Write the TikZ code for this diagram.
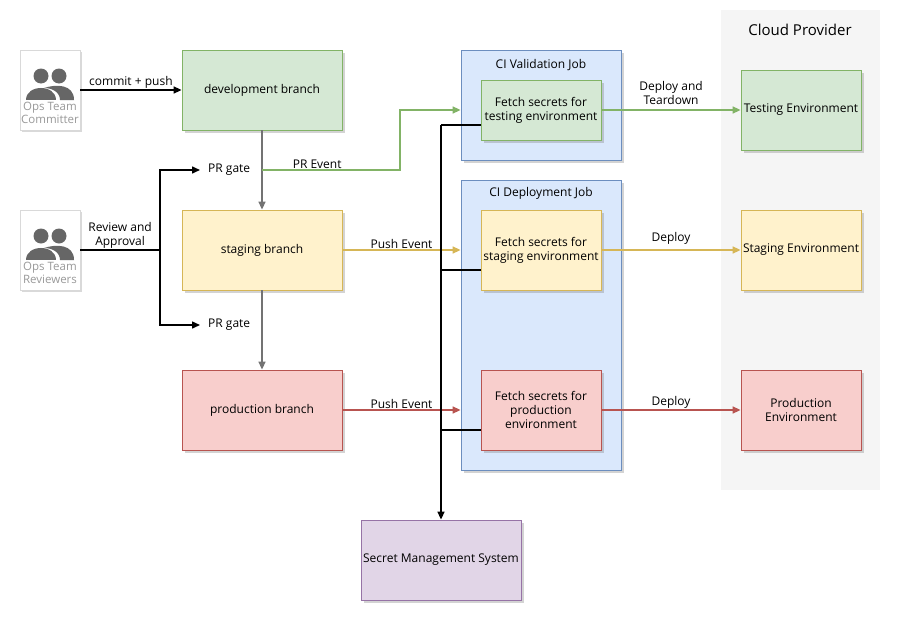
\documentclass[tikz,border=0pt]{standalone}
\usepackage{fontspec}
\setmainfont{Open Sans}
\usetikzlibrary{shadows,arrows.meta}
\definecolor{gF}{HTML}{D5E8D4}\definecolor{gS}{HTML}{82B366}
\definecolor{yF}{HTML}{FFF2CC}\definecolor{yS}{HTML}{D6B656}
\definecolor{rF}{HTML}{F8CECC}\definecolor{rS}{HTML}{B85450}
\definecolor{bF}{HTML}{DAE8FC}\definecolor{bS}{HTML}{6C8EBF}
\definecolor{pF}{HTML}{E1D5E7}\definecolor{pS}{HTML}{9673A6}
\definecolor{cloud}{HTML}{F5F5F5}
\begin{document}
\begin{tikzpicture}[x=1pt,y=-1pt,
  every node/.style={font=\fontsize{12}{14}\selectfont,align=center,inner sep=1pt},
  box/.style={draw,line width=0.8pt,minimum width=160pt,minimum height=80pt,drop shadow={shadow xshift=3pt,shadow yshift=-3pt,opacity=0.35}},
  fbox/.style={box,minimum width=120pt,minimum height=60pt},
  ci/.style={draw=bS,fill=bF,line width=0.8pt,minimum width=160pt,drop shadow={shadow xshift=3pt,shadow yshift=-3pt,opacity=0.35}},
  icon/.style={draw=black!15,fill=white,minimum width=60pt,minimum height=80pt,drop shadow={shadow xshift=2pt,shadow yshift=-2pt,opacity=0.3}},
  arr/.style={line width=1.5pt,-{Triangle[length=8pt,width=7pt]}},
  ln/.style={line width=1.5pt}]
\useasboundingbox (0,0) rectangle (899,621);
\node[fill=cloud,minimum width=159pt,minimum height=480pt,anchor=north west] (cloud) at (721,10) {};
\node[font=\fontsize{15}{18}\selectfont] (cloudlbl) at (800,30) {Cloud Provider};
% icons
\foreach \n/\y/\t in {comm/90/Committer,rev/250/Reviewers}{
 \node[icon] (\n) at (50,\y) {};
 \fill[black!60] (41,\y-14) circle (7.5) (59,\y-14) circle (7.5);
 \fill[black!60] (26,\y+10) .. controls (26,\y-6) and (56,\y-6) .. (56,\y+10) -- cycle;
 \fill[black!60] (44,\y-2) .. controls (56,\y-6) and (74,\y-6) .. (74,\y+10) -- (60,\y+10) .. controls (60,\y+2) and (52,\y-2) .. (44,\y-2) -- cycle;
 \node[text=black!40,font=\fontsize{11.5}{13}\selectfont] (\n t) at (50,\y+23) {Ops Team\\\t};
}
% branches
\node[box,draw=gS,fill=gF] (dev) at (262,90) {development branch};
\node[box,draw=yS,fill=yF] (stg) at (262,250) {staging branch};
\node[box,draw=rS,fill=rF] (prd) at (262,410) {production branch};
% CI
\node[ci,minimum height=110pt] (val) at (541,105) {};
\node (valt) at (541,65) {CI Validation Job};
\node[ci,minimum height=290pt] (dep) at (541,325) {};
\node (dept) at (541,193) {CI Deployment Job};
\node[fbox,draw=gS,fill=gF] (ft) at (541,110) {Fetch secrets for\\testing environment};
\node[fbox,draw=yS,fill=yF,minimum height=80pt] (fs) at (541,250) {Fetch secrets for\\staging environment};
\node[fbox,draw=rS,fill=rF,minimum height=80pt] (fp) at (541,410) {Fetch secrets for\\production\\environment};
% envs
\node[fbox,draw=gS,fill=gF,minimum height=80pt] (te) at (801,110) {Testing Environment};
\node[fbox,draw=yS,fill=yF,minimum height=80pt] (se) at (801,250) {Staging Environment};
\node[fbox,draw=rS,fill=rF,minimum height=80pt] (pe) at (801,410) {Production\\Environment};
\node[box,draw=pS,fill=pF] (sms) at (441,560) {Secret Management System};
% edges
\draw[arr] (comm.east) -- node[above] {commit + push} (dev.west);
\coordinate (pg1) at (200,170); \coordinate (pg2) at (200,325);
\node[anchor=west] (pg1t) at (207,170) {PR gate};
\node[anchor=west] (pg2t) at (207,325) {PR gate};
\draw[ln] (rev.east) -- node[above] {Review and\\Approval} (160,250);
\draw[arr] (160,250) -- (160,170) -- (pg1);
\draw[arr] (160,250) -- (160,325) -- (pg2);
\draw[arr,black!55] (dev) -- (stg);
\draw[arr,black!55] (stg) -- (prd);
\draw[arr,gS] (262,170) -- node[above,black,pos=0.4] {PR Event} (400,170) -- (400,110) -- (val.west|-ft);
\draw[arr,yS] (stg.east) -- node[above,black] {Push Event} (dep.west|-fs);
\draw[arr,rS] (prd.east) -- node[above,black] {Push Event} (dep.west|-fp);
\draw[arr,gS] (ft.east) -- node[above,black,yshift=4pt] {Deploy and\\Teardown} (te.west);
\draw[arr,yS] (fs.east) -- node[above,black,yshift=4pt] {Deploy} (se.west);
\draw[arr,rS] (fp.east) -- node[above,black] {Deploy} (pe.west);
\draw[ln] (ft.west|-0,125) -- (441,125);
\draw[ln] (fs.west|-0,270) -- (441,270);
\draw[ln] (fp.west|-0,430) -- (441,430);
\draw[arr] (441,125) -- (sms.north);
\end{tikzpicture}
\end{document}
